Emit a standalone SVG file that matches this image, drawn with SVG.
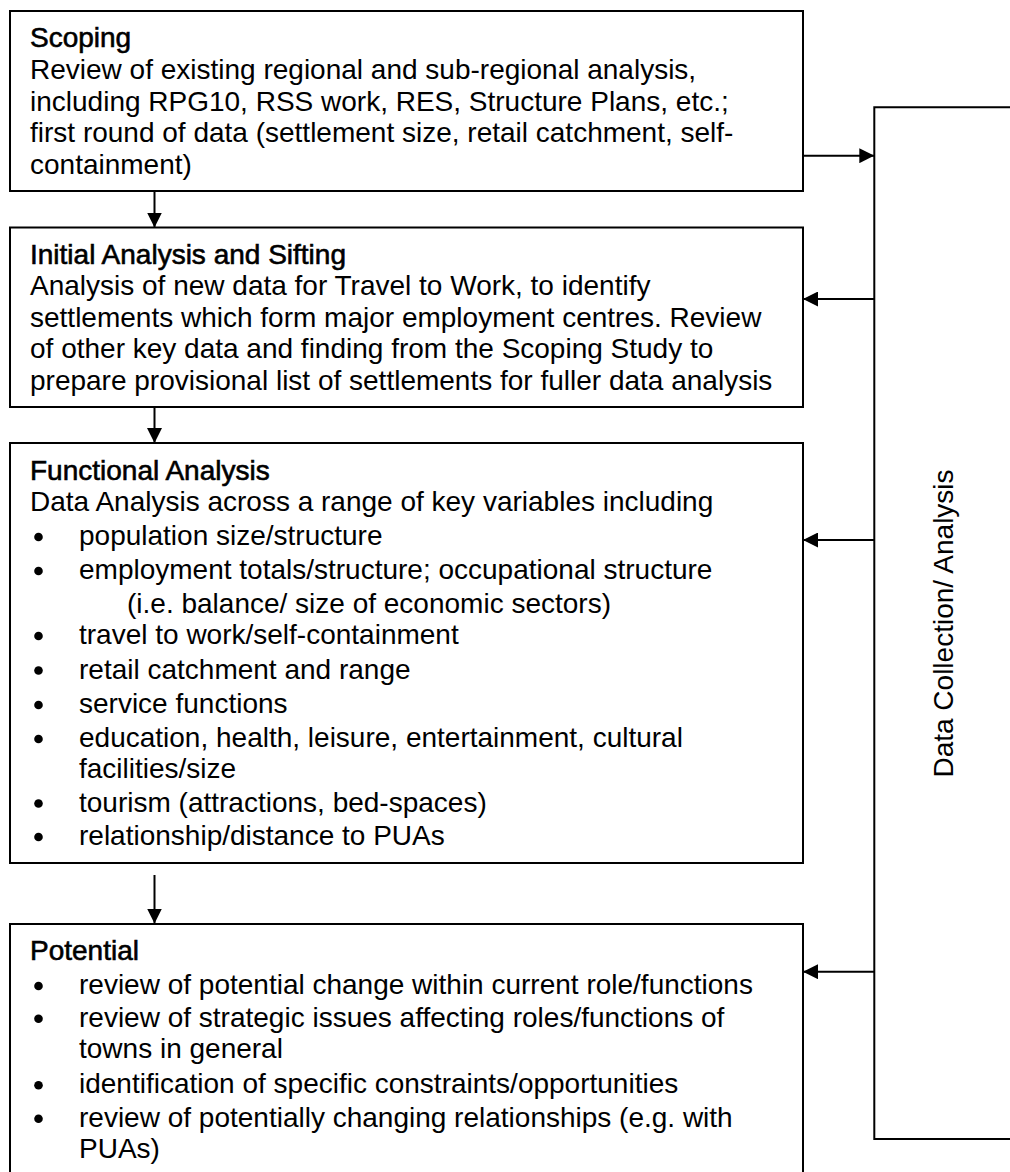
<svg xmlns="http://www.w3.org/2000/svg" width="1010" height="1172" viewBox="0 0 1010 1172">
<style>
text{font-family:"Liberation Sans",Arial,sans-serif;font-size:28px;fill:#000}
.h{stroke:#000;stroke-width:0.6}
.box{fill:#fff;stroke:#000;stroke-width:2}
.c{fill:none;stroke:#000;stroke-width:2}
.b{fill:#000}
</style>
<defs>
<marker id="arr" markerUnits="userSpaceOnUse" markerWidth="15" markerHeight="15" refX="15" refY="7.5" orient="auto" viewBox="0 0 15 15">
<path d="M0,0 L15,7.5 L0,15 z" fill="#000"/>
</marker>
</defs>
<rect width="1010" height="1172" fill="#fff"/>

<g id="data-collection">
<path class="c" d="M1014,107.3 H874.3 V1139 H1014"/>
<text x="953" y="623.5" text-anchor="middle" transform="rotate(-90 953 623.5)">Data Collection/ Analysis</text>
</g>

<g id="scoping">
<rect class="box" x="10" y="11" width="793" height="180"/>
<text class="h" x="30" y="47">Scoping</text>
<text x="30" y="79">Review of existing regional and sub-regional analysis,</text>
<text x="30" y="110.5">including RPG10, RSS work, RES, Structure Plans, etc.;</text>
<text x="30" y="142">first round of data (settlement size, retail catchment, self-</text>
<text x="30" y="173.5">containment)</text>
</g>

<g id="initial">
<rect class="box" x="10" y="227.5" width="793" height="179.5"/>
<text class="h" x="30" y="263.5">Initial Analysis and Sifting</text>
<text x="30" y="295">Analysis of new data for Travel to Work, to identify</text>
<text x="30" y="326.5">settlements which form major employment centres. Review</text>
<text x="30" y="358">of other key data and finding from the Scoping Study to</text>
<text x="30" y="389.5">prepare provisional list of settlements for fuller data analysis</text>
</g>

<g id="functional">
<rect class="box" x="10" y="443" width="793" height="420"/>
<text class="h" x="30" y="480">Functional Analysis</text>
<text x="30" y="510.5">Data Analysis across a range of key variables including</text>
<circle class="b" cx="38.5" cy="537" r="4.3"/>
<text x="79" y="545">population size/structure</text>
<circle class="b" cx="38.5" cy="571" r="4.3"/>
<text x="79" y="579">employment totals/structure; occupational structure</text>
<text x="127" y="613">(i.e. balance/ size of economic sectors)</text>
<circle class="b" cx="38.5" cy="636" r="4.3"/>
<text x="79" y="644">travel to work/self-containment</text>
<circle class="b" cx="38.5" cy="670.5" r="4.3"/>
<text x="79" y="678.5">retail catchment and range</text>
<circle class="b" cx="38.5" cy="705" r="4.3"/>
<text x="79" y="713">service functions</text>
<circle class="b" cx="38.5" cy="739" r="4.3"/>
<text x="79" y="747">education, health, leisure, entertainment, cultural</text>
<text x="79" y="777.5">facilities/size</text>
<circle class="b" cx="38.5" cy="803.5" r="4.3"/>
<text x="79" y="811.5">tourism (attractions, bed-spaces)</text>
<circle class="b" cx="38.5" cy="837" r="4.3"/>
<text x="79" y="845">relationship/distance to PUAs</text>
</g>

<g id="potential">
<rect class="box" x="10" y="924" width="793" height="260"/>
<text class="h" x="30" y="960">Potential</text>
<circle class="b" cx="38.5" cy="986" r="4.3"/>
<text x="79" y="994">review of potential change within current role/functions</text>
<circle class="b" cx="38.5" cy="1018.7" r="4.3"/>
<text x="79" y="1026.7">review of strategic issues affecting roles/functions of</text>
<text x="79" y="1058.3">towns in general</text>
<circle class="b" cx="38.5" cy="1085.3" r="4.3"/>
<text x="79" y="1093.3">identification of specific constraints/opportunities</text>
<circle class="b" cx="38.5" cy="1118.7" r="4.3"/>
<text x="79" y="1126.7">review of potentially changing relationships (e.g. with</text>
<text x="79" y="1158.3">PUAs)</text>
</g>

<g id="connectors">
<line class="c" x1="154.5" y1="191" x2="154.5" y2="227.5" marker-end="url(#arr)"/>
<line class="c" x1="154.5" y1="407" x2="154.5" y2="443" marker-end="url(#arr)"/>
<line class="c" x1="154.5" y1="875" x2="154.5" y2="923.5" marker-end="url(#arr)"/>
<line class="c" x1="803" y1="155.7" x2="874.3" y2="155.7" marker-end="url(#arr)"/>
<line class="c" x1="874.3" y1="299" x2="803" y2="299" marker-end="url(#arr)"/>
<line class="c" x1="874.3" y1="540" x2="803" y2="540" marker-end="url(#arr)"/>
<line class="c" x1="874.3" y1="971.7" x2="803" y2="971.7" marker-end="url(#arr)"/>
</g>
</svg>
